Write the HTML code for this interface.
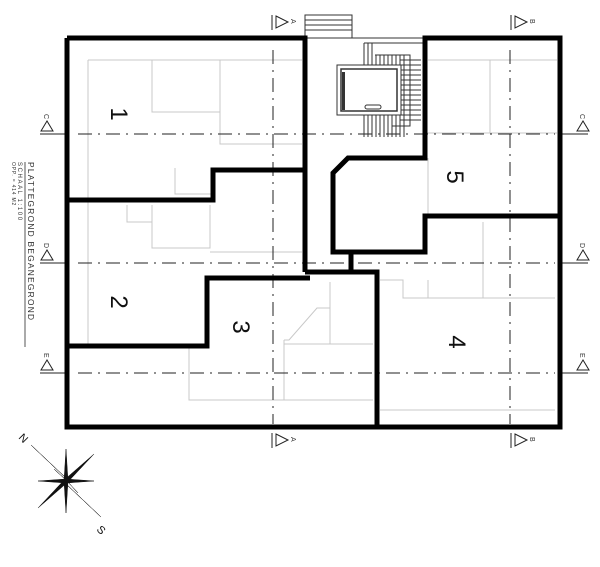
<!DOCTYPE html>
<html><head><style>
html,body{margin:0;padding:0;background:#fff;}
svg{display:block;font-family:"Liberation Sans",sans-serif;}
</style></head><body>
<svg width="600" height="567" viewBox="0 0 600 567" xmlns="http://www.w3.org/2000/svg">
<g stroke="#c8c8c8" stroke-width="1" fill="none">
<path d="M88 60 H302 M88 60 V345 M152 60 V112 H220 V60 M220 112 V144 H302 M175 168 V194 H213"/>
<path d="M127 205 V222 H152 V248 H210 V205 M152 222 V205 M210 252 H302"/>
<path d="M189 346 V400 H373 M284 340 V400 M284 340 H289 L317 308 H330 V282 M330 308 V344 M284 344 H373"/>
<path d="M380 410 H555 M380 280 H403 V298 H555 M428 280 V298 M483 222 V298"/>
<path d="M428 60 H557 M490 60 V133 M425 133 H557 M428 216 V158"/>
</g>
<g stroke="#222" stroke-width="1" stroke-dasharray="14,6,2,6" fill="none">
<path d="M273 50 V424"/>
<path d="M510 50 V424"/>
<path d="M78 134 H555"/>
<path d="M78 263 H555"/>
<path d="M78 373 H555"/>
</g>
<g stroke="#222" stroke-width="1">
<path d="M40 134 H67 M40 263 H67 M40 373 H67 M560 134 H588 M560 263 H588 M560 373 H588"/>
</g>
<g stroke="#222" stroke-width="1" fill="#fff">
<path d="M272 15 V30 M276 16 L288 22 L276 28 Z"/>
<path d="M511 15 V30 M515 16 L527 22 L515 28 Z"/>
<path d="M272 433 V448 M276 434 L288 440 L276 446 Z"/>
<path d="M511 433 V448 M515 434 L527 440 L515 446 Z"/>
<path d="M41 131 H53 L47 121 Z M41 260 H53 L47 250 Z M41 370 H53 L47 360 Z"/>
<path d="M577 131 H589 L583 121 Z M577 260 H589 L583 250 Z M577 370 H589 L583 360 Z"/>
</g>
<g font-size="7" fill="#333">
<text transform="translate(291,19) rotate(90)">A</text><text transform="translate(530,19) rotate(90)">B</text>
<text transform="translate(291,437) rotate(90)">A</text><text transform="translate(530,437) rotate(90)">B</text>
<text transform="translate(44,114) rotate(90)">C</text>
<text transform="translate(44,243) rotate(90)">D</text>
<text transform="translate(44,353) rotate(90)">E</text>
<text transform="translate(580,114) rotate(90)">C</text>
<text transform="translate(580,243) rotate(90)">D</text>
<text transform="translate(580,353) rotate(90)">E</text>
</g>
<g stroke="#333" stroke-width="1" fill="none">
<rect x="305" y="15" width="47" height="23"/>
<path d="M305 20 H352 M305 25 H352 M305 30 H352"/>
<path d="M308 38 H423"/>
<path d="M364 43 V137 M368 43 V137 M372 43 V137 M376 55 V137 M380 55 V137 M384 55 V137 M388 55 V137 M392 55 V137 M396 55 V137 M400 55 V137 M404 55 V137"/>
<path d="M364 43 H423 M375 55 H410 V126 H392"/>
<path d="M400 60 H421 M400 65 H421 M400 70 H421 M400 75 H421 M400 80 H421 M400 85 H421 M400 90 H421 M400 95 H421 M400 100 H421 M400 105 H421 M400 110 H421 M400 115 H421 M400 120 H421"/>
</g>
<rect x="337" y="65" width="64" height="50" fill="#fff" stroke="#333" stroke-width="1"/>
<rect x="341" y="69" width="56" height="42" fill="#fff" stroke="#333" stroke-width="1.5"/>
<rect x="342" y="72" width="3" height="38" fill="#333"/>
<rect x="365" y="105" width="16" height="4" rx="2" fill="none" stroke="#333"/>
<g stroke="#000" stroke-width="5" fill="none" stroke-linejoin="miter">
<path d="M67 38 H305 V272"/>
<path d="M67 38 V427 H377 V272 H305"/>
<path d="M377 427 H560 V38 H425 V158 H348 L333 173 V252 H425 V216 H560"/>
<path d="M67 200 H213 V170 H305"/>
<path d="M67 346 H207 V278 H310"/>
<path d="M351 252 V272"/>
</g>
<g font-size="24" fill="#111">
<text transform="translate(111,114) rotate(90)" text-anchor="middle">1</text>
<text transform="translate(447,177) rotate(90)" text-anchor="middle">5</text>
<text transform="translate(111,302) rotate(90)" text-anchor="middle">2</text>
<text transform="translate(233,327) rotate(90)" text-anchor="middle">3</text>
<text transform="translate(449,342) rotate(90)" text-anchor="middle">4</text>
</g>
<g fill="#333">
<text transform="translate(28,162) rotate(90)" font-size="8.3" letter-spacing="1.3">PLATTEGROND BEGANEGROND</text>
<path d="M25 162 V347" stroke="#555" stroke-width="1"/>
<text transform="translate(18,162) rotate(90)" font-size="6" letter-spacing="1.6">SCHAAL 1:100</text>
<text transform="translate(12,162) rotate(90)" font-size="5" letter-spacing="0.8">OPP. = 414 M2</text>
</g>
<g transform="translate(66,481)" fill="#111" stroke="#111" stroke-width="0.5">
<polygon points="0,-3 -35,-36 3,0"/>
<polygon points="0,3 35,36 -3,0"/>
<polygon points="-3,0 28,-27 0,3"/>
<polygon points="3,0 -28,27 0,-3"/>
<polygon points="-2,0 0,-32 2,0"/>
<polygon points="-2,0 0,32 2,0"/>
<polygon points="0,-2 -28,0 0,2"/>
<polygon points="0,-2 28,0 0,2"/>
<polygon points="0,-1 -12,-12 1,0 12,12" fill="#fff"/>
</g>
<text transform="translate(18,438) rotate(45)" font-size="11" fill="#111">N</text>
<text transform="translate(96,530) rotate(45)" font-size="11" fill="#111">S</text>
</svg>
</body></html>
